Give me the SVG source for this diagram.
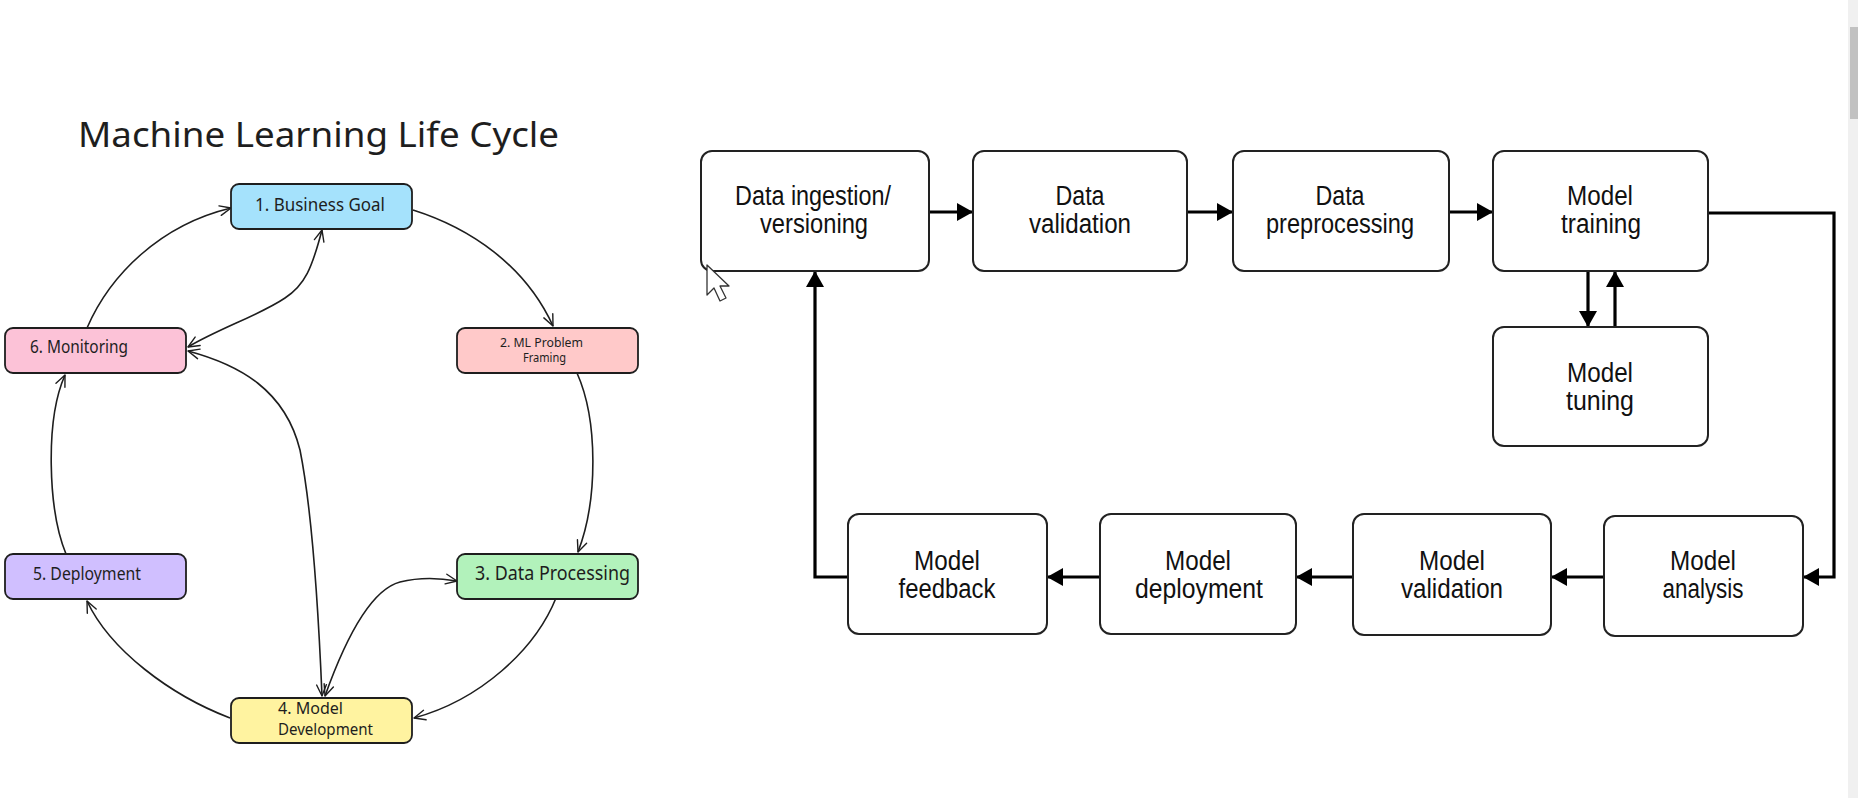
<svg xmlns="http://www.w3.org/2000/svg" width="1858" height="798" viewBox="0 0 1858 798">
<defs>
<marker id="open" viewBox="0 0 20 20" refX="18" refY="10" markerWidth="14" markerHeight="14" markerUnits="userSpaceOnUse" orient="auto-start-reverse">
<path d="M2,3 L18,10 L2,17" fill="none" stroke="#1e1e1e" stroke-width="2" stroke-linecap="round" stroke-linejoin="round"/>
</marker>
<marker id="solid" viewBox="0 0 16 18" refX="16" refY="9" markerWidth="16" markerHeight="18" markerUnits="userSpaceOnUse" orient="auto">
<path d="M0,0 L16,9 L0,18 Z" fill="#000"/>
</marker>
</defs>
<style>
.hb{stroke:#1e1e1e;stroke-width:1.8}
.ht{font-family:"Noto Sans","Liberation Sans",sans-serif;fill:#1e1e1e}
.hc{fill:none;stroke:#1e1e1e;stroke-width:1.6}
.rb{fill:#fff;stroke:#222;stroke-width:2}
.rt{font-family:"Liberation Sans","Noto Sans",sans-serif;font-size:27px;fill:#111;text-anchor:middle}
.rc{fill:none;stroke:#000;stroke-width:3.2}
</style>
<rect width="1858" height="798" fill="#fff"/>
<text class="ht" x="78" y="147" font-size="34" textLength="481" lengthAdjust="spacingAndGlyphs">Machine Learning Life Cycle</text>

<g id="left-connectors">
<path class="hc" d="M413,210 C470,228 525,265 553,326" marker-end="url(#open)"/>
<path class="hc" d="M577,373 C598,420 598,500 578,552" marker-end="url(#open)"/>
<path class="hc" d="M556,598 C535,650 480,700 414,718" marker-end="url(#open)"/>
<path class="hc" d="M230,718 C170,695 110,650 87,601" marker-end="url(#open)"/>
<path class="hc" d="M66,554 C48,510 45,420 65,375" marker-end="url(#open)"/>
<path class="hc" d="M87,328 C110,275 160,225 231,208" marker-end="url(#open)"/>
<path class="hc" d="M322,230 C312,268 305,285 285,298 C260,315 220,328 188,347" marker-start="url(#open)" marker-end="url(#open)"/>
<path class="hc" d="M188,351 C240,365 285,390 300,450 C312,510 318,600 322,696" marker-start="url(#open)" marker-end="url(#open)"/>
<path class="hc" d="M325,696 C345,640 370,590 400,582 C420,577 440,578 457,581" marker-start="url(#open)" marker-end="url(#open)"/>
</g>

<g id="n-business-goal">
<rect class="hb" x="231" y="184" width="181" height="45" rx="8" fill="#a5e2fc"/>
<text class="ht" x="255" y="211" font-size="18" textLength="130" lengthAdjust="spacingAndGlyphs">1. Business Goal</text>
</g>
<g id="n-ml-problem">
<rect class="hb" x="457" y="328" width="181" height="45" rx="8" fill="#ffc9c9"/>
<text class="ht" x="500" y="347" font-size="12" textLength="83" lengthAdjust="spacingAndGlyphs">2. ML Problem</text>
<text class="ht" x="523" y="362" font-size="12" textLength="43" lengthAdjust="spacingAndGlyphs">Framing</text>
</g>
<g id="n-data-processing">
<rect class="hb" x="457" y="554" width="181" height="45" rx="8" fill="#b2f2bb"/>
<text class="ht" x="475" y="580" font-size="19" textLength="155" lengthAdjust="spacingAndGlyphs">3. Data Processing</text>
</g>
<g id="n-model-development">
<rect class="hb" x="231" y="698" width="181" height="45" rx="8" fill="#fff3a0"/>
<text class="ht" x="278" y="714" font-size="17" textLength="65" lengthAdjust="spacingAndGlyphs">4. Model</text>
<text class="ht" x="278" y="735" font-size="17" textLength="95" lengthAdjust="spacingAndGlyphs">Development</text>
</g>
<g id="n-deployment">
<rect class="hb" x="5" y="554" width="181" height="45" rx="8" fill="#d0bfff"/>
<text class="ht" x="33" y="580" font-size="18" textLength="108" lengthAdjust="spacingAndGlyphs">5. Deployment</text>
</g>
<g id="n-monitoring">
<rect class="hb" x="5" y="328" width="181" height="45" rx="8" fill="#fcc2d7"/>
<text class="ht" x="30" y="353" font-size="18" textLength="98" lengthAdjust="spacingAndGlyphs">6. Monitoring</text>
</g>

<g id="right-connectors">
<path class="rc" d="M929,212 H973" marker-end="url(#solid)"/>
<path class="rc" d="M1187,212 H1233" marker-end="url(#solid)"/>
<path class="rc" d="M1449,212 H1493" marker-end="url(#solid)"/>
<path class="rc" d="M1708,213 H1834 V577 H1803" marker-end="url(#solid)"/>
<path class="rc" d="M1588,271 V327" marker-end="url(#solid)"/>
<path class="rc" d="M1615,327 V271" marker-end="url(#solid)"/>
<path class="rc" d="M1604,577 H1551" marker-end="url(#solid)"/>
<path class="rc" d="M1353,577 H1296" marker-end="url(#solid)"/>
<path class="rc" d="M1100,577 H1047" marker-end="url(#solid)"/>
<path class="rc" d="M848,577 H815 V271" marker-end="url(#solid)"/>
</g>

<g id="r-ingestion">
<rect class="rb" x="701" y="151" width="228" height="120" rx="11"/>
<text class="rt" x="813" y="205" textLength="156" lengthAdjust="spacingAndGlyphs">Data ingestion/</text>
<text class="rt" x="814" y="233" textLength="108" lengthAdjust="spacingAndGlyphs">versioning</text>
</g>
<g id="r-data-validation">
<rect class="rb" x="973" y="151" width="214" height="120" rx="11"/>
<text class="rt" x="1080" y="205" textLength="49" lengthAdjust="spacingAndGlyphs">Data</text>
<text class="rt" x="1080" y="233" textLength="102" lengthAdjust="spacingAndGlyphs">validation</text>
</g>
<g id="r-preprocessing">
<rect class="rb" x="1233" y="151" width="216" height="120" rx="11"/>
<text class="rt" x="1340" y="205" textLength="49" lengthAdjust="spacingAndGlyphs">Data</text>
<text class="rt" x="1340" y="233" textLength="148" lengthAdjust="spacingAndGlyphs">preprocessing</text>
</g>
<g id="r-training">
<rect class="rb" x="1493" y="151" width="215" height="120" rx="11"/>
<text class="rt" x="1600" y="205" textLength="66" lengthAdjust="spacingAndGlyphs">Model</text>
<text class="rt" x="1601" y="233" textLength="80" lengthAdjust="spacingAndGlyphs">training</text>
</g>
<g id="r-tuning">
<rect class="rb" x="1493" y="327" width="215" height="119" rx="11"/>
<text class="rt" x="1600" y="382" textLength="66" lengthAdjust="spacingAndGlyphs">Model</text>
<text class="rt" x="1600" y="410" textLength="68" lengthAdjust="spacingAndGlyphs">tuning</text>
</g>
<g id="r-feedback">
<rect class="rb" x="848" y="514" width="199" height="120" rx="11"/>
<text class="rt" x="947" y="570" textLength="66" lengthAdjust="spacingAndGlyphs">Model</text>
<text class="rt" x="947" y="598" textLength="97" lengthAdjust="spacingAndGlyphs">feedback</text>
</g>
<g id="r-deployment">
<rect class="rb" x="1100" y="514" width="196" height="120" rx="11"/>
<text class="rt" x="1198" y="570" textLength="66" lengthAdjust="spacingAndGlyphs">Model</text>
<text class="rt" x="1199" y="598" textLength="128" lengthAdjust="spacingAndGlyphs">deployment</text>
</g>
<g id="r-validation">
<rect class="rb" x="1353" y="514" width="198" height="121" rx="11"/>
<text class="rt" x="1452" y="570" textLength="66" lengthAdjust="spacingAndGlyphs">Model</text>
<text class="rt" x="1452" y="598" textLength="102" lengthAdjust="spacingAndGlyphs">validation</text>
</g>
<g id="r-analysis">
<rect class="rb" x="1604" y="516" width="199" height="120" rx="11"/>
<text class="rt" x="1703" y="570" textLength="66" lengthAdjust="spacingAndGlyphs">Model</text>
<text class="rt" x="1703" y="598" textLength="81" lengthAdjust="spacingAndGlyphs">analysis</text>
</g>

<path d="M707,265 L707,295 L714,288 L720,301 L726,298 L720,286 L729,286 Z" fill="#fff" stroke="#333" stroke-width="1.3" stroke-linejoin="round"/>
<rect x="1848" y="0" width="10" height="798" fill="#f0f0f0"/>
<rect x="1850" y="27" width="8" height="92" fill="#c1c1c1"/>
</svg>
